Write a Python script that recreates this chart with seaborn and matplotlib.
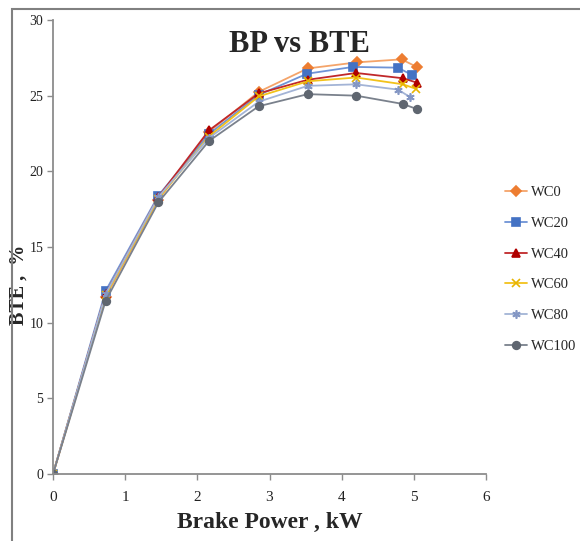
import matplotlib
matplotlib.use("Agg")
import matplotlib.pyplot as plt
import seaborn as sns
import pandas as pd
from matplotlib.patches import Rectangle

# ---- data ----
series_names = ["WC0", "WC20", "WC40", "WC60", "WC80", "WC100"]
bp_wc0 = [0, 0.73, 1.46, 2.16, 2.85, 3.53, 4.21, 4.83, 5.04]
bp_wc20 = [0, 0.73, 1.46, 2.16, 2.85, 3.52, 4.16, 4.78, 4.98]
bp_wc40 = [0, 0.73, 1.46, 2.16, 2.85, 3.53, 4.20, 4.85, 5.05]
bp_wc60 = [0, 0.73, 1.46, 2.16, 2.85, 3.53, 4.20, 4.85, 5.03]
bp_wc80 = [0, 0.73, 1.46, 2.16, 2.85, 3.53, 4.20, 4.78, 4.95]
bp_wc100 = [0, 0.73, 1.46, 2.16, 2.85, 3.53, 4.20, 4.85, 5.05]

bte_wc0 = [0, 11.7, 18.1, 22.6, 25.25, 26.8, 27.2, 27.4, 26.9]
bte_wc20 = [0, 12.1, 18.4, 22.45, 25.05, 26.45, 26.9, 26.85, 26.35]
bte_wc40 = [0, 11.9, 18.3, 22.7, 25.15, 26.05, 26.5, 26.15, 25.85]
bte_wc60 = [0, 11.8, 18.2, 22.3, 24.95, 25.95, 26.2, 25.75, 25.45]
bte_wc80 = [0, 11.9, 18.3, 22.2, 24.6, 25.65, 25.75, 25.4, 24.9]
bte_wc100 = [0, 11.45, 17.95, 22.0, 24.3, 25.1, 25.0, 24.45, 24.1]

x_ticks = [0, 1, 2, 3, 4, 5, 6]
y_ticks = [0, 5, 10, 15, 20, 25, 30]

bp_all = [bp_wc0, bp_wc20, bp_wc40, bp_wc60, bp_wc80, bp_wc100]
bte_all = [bte_wc0, bte_wc20, bte_wc40, bte_wc60, bte_wc80, bte_wc100]

rows = []
for name, xs, ys in zip(series_names, bp_all, bte_all):
    for xv, yv in zip(xs, ys):
        rows.append({"series": name, "bp": xv, "bte": yv})
df = pd.DataFrame(rows)

# ---- style ----
sns.set_style("white")
plt.rcParams["font.family"] = ["Liberation Serif", "DejaVu Serif"]

line_colors = {"WC0": "#F4A46A", "WC20": "#6E93D6", "WC40": "#C0282A",
               "WC60": "#F2C21B", "WC80": "#A3B4D6", "WC100": "#7A818C"}
marker_colors = {"WC0": "#ED7D31", "WC20": "#4472C4", "WC40": "#B00000",
                 "WC60": "#E8B400", "WC80": "#8497C4", "WC100": "#5F6670"}
markers = {"WC0": "D", "WC20": "s", "WC40": "^", "WC60": "x",
           "WC80": (6, 2, 0), "WC100": "o"}
msizes = {"WC0": 5, "WC20": 5.5, "WC40": 6, "WC60": 6, "WC80": 6, "WC100": 5.5}

fig = plt.figure(figsize=(5.80, 5.41), dpi=100)
ax = fig.add_axes([53 / 580, 1 - 474 / 541, 433 / 580, 454 / 541])

for name in series_names:
    sub = df[df["series"] == name]
    sns.lineplot(data=sub, x="bp", y="bte", ax=ax, color=line_colors[name],
                 marker=markers[name], markersize=msizes[name],
                 markerfacecolor=marker_colors[name],
                 markeredgecolor=marker_colors[name], markeredgewidth=1.2,
                 linewidth=1.3, label=name, sort=False, estimator=None)

ax.set_xlim(0, 6)
ax.set_ylim(0, 30)
ax.set_xticks(x_ticks)
ax.set_yticks(y_ticks)
ax.set_xticklabels([str(t) for t in x_ticks])
ax.set_yticklabels([str(t) for t in y_ticks])

for s in ["top", "right"]:
    ax.spines[s].set_visible(False)
for s in ["left", "bottom"]:
    ax.spines[s].set_color("#8C8C8C")
    ax.spines[s].set_linewidth(1.3)

ax.tick_params(axis="both", which="major", direction="out", length=4,
               width=1.0, color="#8C8C8C", labelsize=10, labelcolor="#222222")
ax.tick_params(axis="y", pad=3, left=True)
ax.tick_params(axis="x", pad=8, bottom=True, labelsize=11)

ax.set_xlabel("Brake Power , kW", fontsize=17, fontweight="bold", labelpad=6)
ax.set_ylabel("BTE ,  %", fontsize=14.5, fontweight="bold", va="center")
ax.yaxis.set_label_coords(-0.0785, 0.416)

ax.text(0.57, 0.945, "BP vs BTE", transform=ax.transAxes, fontsize=22,
        fontweight="bold", ha="center", va="center")

handles, labels = ax.get_legend_handles_labels()
if ax.legend_:
    ax.legend_.remove()
fig.legend(handles, labels, loc="upper left", bbox_to_anchor=(505 / 580, 1 - 186 / 541),
           frameon=False, fontsize=10.5, handlelength=1.5, handletextpad=0.25,
           labelspacing=1.2, borderpad=0, borderaxespad=0)

# outer frame (as in the reference, partly visible)
fig.patches.append(Rectangle((12 / 580, -0.05), 1.2, 1 - 9 / 541 + 0.05,
                             transform=fig.transFigure, fill=False,
                             edgecolor="#808080", linewidth=1.5, clip_on=False))

fig.savefig("out.png", dpi=100, facecolor="white")
